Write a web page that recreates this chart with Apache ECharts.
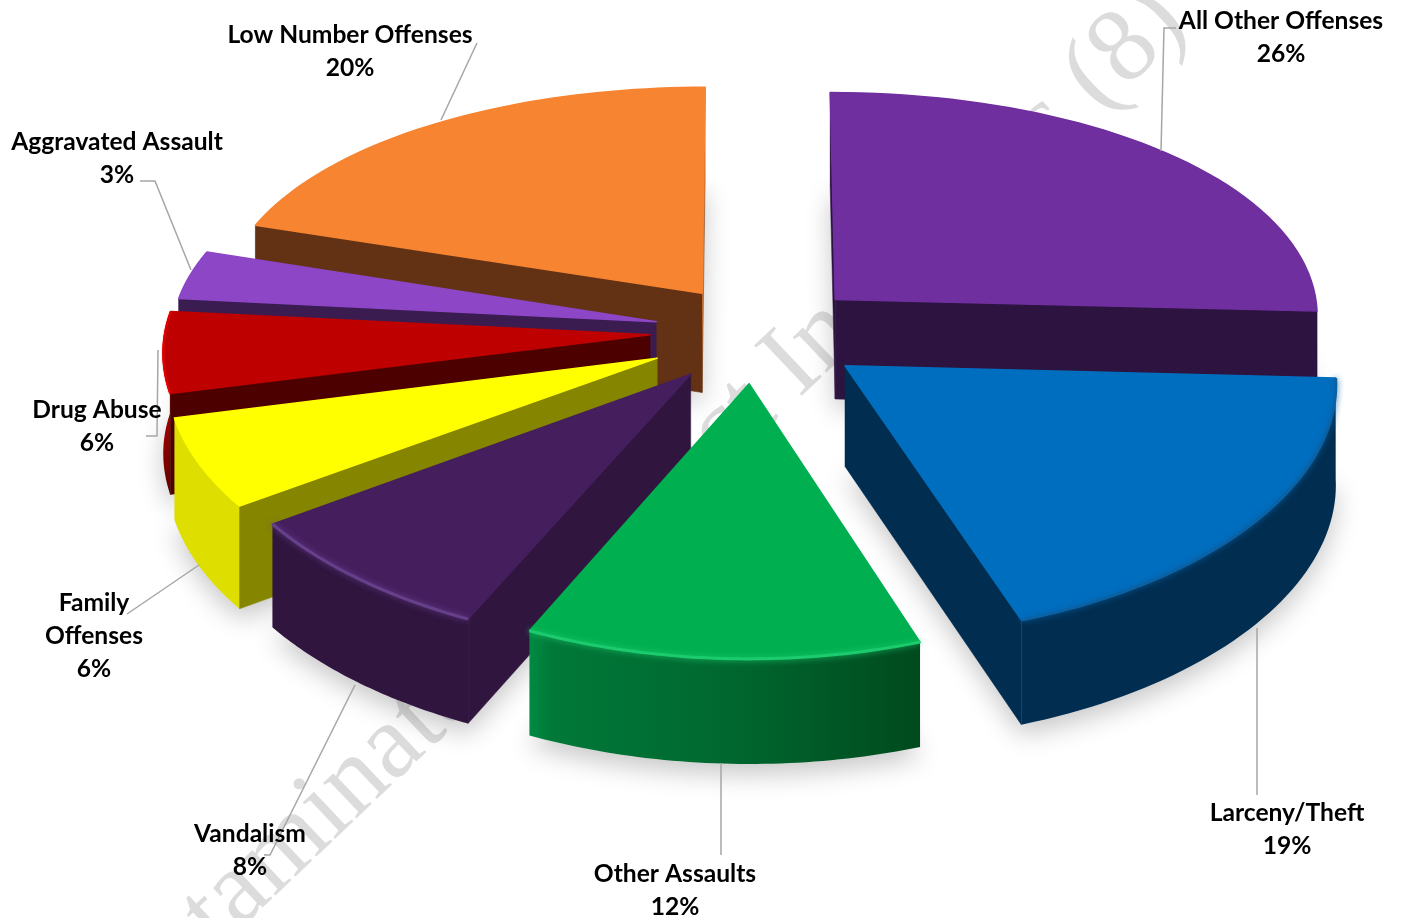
<!DOCTYPE html>
<html>
<head>
<meta charset="utf-8">
<title>Offense breakdown</title>
<style>
html, body { margin: 0; padding: 0; background: #fff; }
#chart { width: 1402px; height: 918px; }
</style>
<script src="https://cdn.jsdelivr.net/npm/echarts@6/dist/echarts.min.js"></script>
</head>
<body>
<div id="chart"></div>
<script>
// clockwise from 12 o'clock
var categories = ['All Other Offenses', 'Larceny/Theft', 'Other Assaults', 'Vandalism',
    'Family\nOffenses', 'Drug Abuse', 'Aggravated Assault', 'Low Number Offenses'];
// the labels show them rounded
var values = [25.8, 18.9, 12.2, 8.3, 5.9, 5.5, 3.4, 20];

var topColors = ['#6F2F9F', '#006EBF', '#00AF50', '#451E5E', '#FFFF00', '#BF0000', '#8C46C6', '#F68431'];
var sideColors = ['#2C1340', '#002D50', '#00602C', '#30153F', '#858500', '#4C0000', '#3B1C50', '#633214'];
var wallColors = ['#5A2785', '#002D50', '#00602C', '#30153F', '#DEDE00', '#BF0000', '#6B35A0', '#F68431'];
var rimColors = [null, '#0A62A5', '#1CCB6E', '#67408C', null, '#E00000', null, null];

// back to front
var drawOrder = [0, 7, 6, 5, 4, 3, 1, 2];
// how far each slice is pulled out, in pie radii
var sliceOffsets = [[0.173, -0.14], [0.19, 0.142], [-0.006, 0.215], [-0.125, 0.176],
    [-0.194, 0.11], [-0.21, 0.012], [-0.198, -0.044], [-0.104, -0.168]];

// label centre and leader line, same order as categories
var labelPos = [[1281, 20], [1287, 812], [675, 873], [250, 833], [94, 602], [97, 409], [117, 141], [350, 34]];
var leaders = [
    [[1176, 28], [1164, 28], [1161, 151]],
    [[1257, 628], [1257, 795]],
    [[721, 763], [721, 855]],
    [[355, 685], [270, 855], [264, 855]],
    [[127, 614], [199, 565]],
    [[146, 436], [157, 436], [158, 350]],
    [[140, 181], [155, 181], [191, 270]],
    [[477, 43], [441, 120]]
];

var cx = 752, cy = 332, rx = 485, ry = 235, depth = 100, perspY = 9.6, perspX = 15.7, perspZ = 25;

function project(x, y, z) {
    var sy = perspY / (perspY - y);
    var sx = perspX / (perspX - y);
    var sz = perspZ / (perspZ - y);
    return [cx + x * rx * sx, cy + y * ry * sy + z * depth * sz];
}

function sliceAngles() {
    var total = 0, acc = 0, out = [];
    values.forEach(function (v) { total += v; });
    values.forEach(function (v) {
        out.push([acc / total * Math.PI * 2, (acc + v) / total * Math.PI * 2]);
        acc += v;
    });
    return out;
}

function area(pts) {
    var a = 0;
    for (var i = 0; i < pts.length; i++) {
        var p = pts[i], q = pts[(i + 1) % pts.length];
        a += p[0] * q[1] - q[0] * p[1];
    }
    return a / 2;
}

var angles = sliceAngles();

function renderSlice(params, api) {
    var i = params.dataIndex;
    var a0 = angles[i][0], a1 = angles[i][1];
    var ox = sliceOffsets[i][0], oy = sliceOffsets[i][1];
    var rank = drawOrder.indexOf(i) * 10 + 10;
    var topArc = [], lowArc = [];
    for (var k = 0; k <= 48; k++) {
        var t = a0 + (a1 - a0) * k / 48;
        topArc.push(project(ox + Math.sin(t), oy - Math.cos(t), 0));
        lowArc.push(project(ox + Math.sin(t), oy - Math.cos(t), 1));
    }
    var apex = project(ox, oy, 0), apexLow = project(ox, oy, 1);
    var children = [];
    // soft shadow under the base
    children.push({
        type: 'polygon',
        z2: 1,
        shape: { points: [apexLow].concat(lowArc) },
        style: { fill: '#e4e4e4', shadowBlur: 26, shadowColor: 'rgba(0,0,0,0.22)', shadowOffsetY: 10 }
    });
    // rounded outer wall
    var wallFill = wallColors[i];
    if (i === 2) {
        wallFill = new echarts.graphic.LinearGradient(0, 0, 1, 0, [
            { offset: 0, color: '#008A42' }, { offset: 0.06, color: '#007838' },
            { offset: 0.5, color: '#00682F' }, { offset: 1, color: '#004A1E' }
        ]);
    } else if (i === 5) {
        wallFill = new echarts.graphic.LinearGradient(0, 0, 0, 1, [
            { offset: 0, color: '#E00000' }, { offset: 0.5, color: '#B00000' }, { offset: 1, color: '#600000' }
        ]);
    }
    children.push({
        type: 'polygon',
        z2: rank,
        shape: { points: topArc.concat(lowArc.slice().reverse()) },
        style: { fill: wallFill }
    });
    // flat cut faces, only those turned to the viewer
    var walls = [
        [apex, topArc[0], lowArc[0], apexLow],
        [apex, topArc[48], lowArc[48], apexLow]
    ];
    var outward = [-1, 1];
    walls.forEach(function (w, n) {
        if (area(w) * outward[n] > 0) {
            children.push({
                type: 'polygon',
                z2: rank + 1,
                shape: { points: w },
                style: { fill: (i === 7 && n === 1) ? wallColors[i] : sideColors[i], stroke: sideColors[i], lineWidth: 0.5 }
            });
        }
    });
    // top face
    children.push({
        type: 'polygon',
        z2: rank + 2,
        shape: { points: [apex].concat(topArc) },
        style: { fill: topColors[i], stroke: topColors[i], lineWidth: 1.5, lineJoin: 'round' }
    });
    // bevel on the rim
    if (rimColors[i]) {
        children.push({
            type: 'polyline',
            z2: rank + 3,
            shape: { points: topArc },
            style: {
                fill: 'none',
                stroke: rimColors[i],
                lineWidth: i === 5 ? 2 : 3,
                shadowBlur: i === 5 ? 1 : 6,
                shadowColor: rimColors[i]
            }
        });
    }
    return { type: 'group', children: children };
}

function renderLabel(params, api) {
    var i = params.dataIndex;
    return {
        type: 'text',
        z2: 500,
        style: {
            x: labelPos[i][0],
            y: labelPos[i][1] - 15.5,
            text: categories[i] + '\n' + Math.round(values[i]) + '%',
            align: 'center',
            verticalAlign: 'top',
            font: 'bold 24.6px Lato',
            lineHeight: 33,
            fill: '#000'
        }
    };
}

var chart = echarts.init(document.getElementById('chart'), null, { renderer: 'canvas' });
chart.setOption({
    animation: false,
    backgroundColor: '#fff',
    graphic: {
        elements: [{
            type: 'text',
            z: 0,
            x: 1207,
            y: 46,
            rotation: 43.5 * Math.PI / 180,
            style: {
                text: 'Contaminated Product Incidents (8)',
                font: '106px "Liberation Serif"',
                fill: '#dcdcdc',
                align: 'right',
                verticalAlign: 'bottom'
            }
        }].concat(leaders.map(function (pts) {
            return {
                type: 'polyline',
                z: 5,
                shape: { points: pts },
                style: { fill: 'none', stroke: '#a6a6a6', lineWidth: 1.5 }
            };
        }))
    },
    series: [{
        type: 'custom',
        coordinateSystem: 'none',
        z: 2,
        silent: true,
        data: values,
        renderItem: renderSlice
    }, {
        type: 'custom',
        coordinateSystem: 'none',
        z: 6,
        silent: true,
        data: values,
        renderItem: renderLabel
    }]
});
</script>
</body>
</html>
